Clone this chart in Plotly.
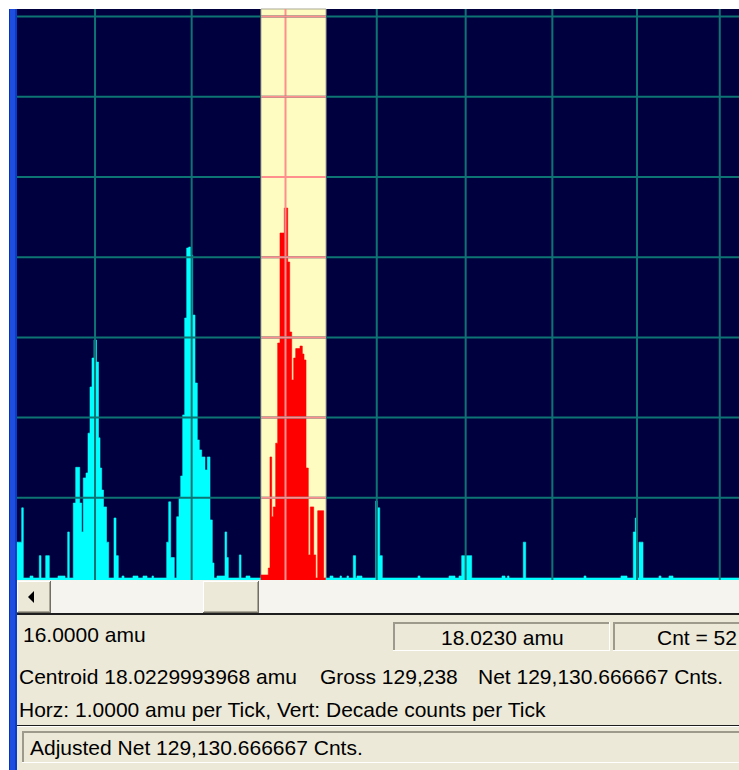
import math
import plotly.graph_objects as go

# ---- Time-of-flight calibration: sqrt(mass) = T0 + channel / K ----
T0 = 3.9006
K = 785.0
CH_MIN, CH_MAX = 0.0, 722.0

mass_ticks = [16, 17, 18, 19, 20, 21, 22, 23]   # 1 amu per tick
decade_ticks = [1, 2, 3, 4, 5, 6, 7]            # log10(counts), 1 decade per tick

# ---- Spectrum: non-background bins (channel edges, counts) ----
bin_lo = [0, 4.7, 13, 22.3, 28.7, 41, 50.7, 56.3, 58.7, 62.7, 64.7, 66.3, 69, 71, 73, 75, 77,
          79.5, 81.5, 83, 84.7, 86.5, 89.5, 97, 99, 105, 116, 126, 135,
          149.7, 151.7, 153.7, 159.7, 162, 163.7, 165.7, 167.7, 169.7, 171.7, 173.7, 175.7,
          178, 180.3, 182.3, 184.7, 188, 190.3, 193, 195.3, 200, 208, 209.7, 222.3, 229,
          244, 251.3, 253, 254.7, 256.3, 258.7, 260.7, 263, 267.3, 270.7, 272.7, 274.7,
          276.7, 278.7, 283, 285.3, 287, 289, 291.3, 293.3, 296.7, 300.7,
          313, 323, 330, 336.3, 340, 358.7, 360.3, 362.7, 401, 432, 442, 444.7, 447.3,
          485, 490.5, 506.3, 567, 604, 616.3, 618.3, 622, 642, 652]
bin_hi = [4.7, 6.3, 16, 24, 32.3, 48, 52.3, 58.7, 62.7, 64.7, 66.3, 69, 71, 73, 75, 77, 79.5,
          81.5, 83, 84.7, 86.5, 89.5, 91.7, 99, 101.3, 107, 121, 130, 136.5,
          151.7, 153.7, 157.3, 162, 163.7, 165.7, 167.7, 169.7, 171.7, 173.7, 175.7, 178,
          180.3, 182.3, 184.7, 188, 190.3, 193, 195.3, 197, 208, 209.7, 211.3, 224, 233,
          251.3, 253, 254.7, 256.3, 258.7, 260.7, 263, 267.3, 270.7, 272.7, 274.7, 276.7,
          278.7, 283, 285.3, 287, 289, 291.3, 293.3, 296.7, 298.7, 306.7,
          316, 324.5, 331.5, 338.6, 345, 360.3, 362.7, 365.3, 403, 438, 444.7, 447.3, 454.7,
          488, 492, 508.7, 569, 610, 618.3, 620.3, 626, 644, 656]
bin_counts = [2.8, 7.5, 1.06, 1.9, 1.9, 1.06, 3.75, 8.6, 24, 8.6, 3.75, 17.7, 20.4, 64, 241, 553, 929,
              493, 56, 23.5, 12.5, 7.7, 2.8, 5.6, 1.9, 1.06, 1.06, 1.06, 1.06,
              2.8, 8.9, 1.8, 5.8, 10.2, 18.7, 108, 1746, 13030, 13400, 10650, 1900,
              270, 52.6, 39.5, 32.3, 22.2, 32.3, 5.3, 1.54, 1.06, 3.75, 1.8, 1.94, 1.06,
              1.09, 1.33, 32.3, 5.8, 7.7, 48, 851, 20040, 41050, 8710, 1168, 294,
              553, 725, 780, 621, 523, 23.5, 1.94, 7.7, 1.94, 6.9,
              1.06, 1.06, 1.06, 1.9, 1.06, 9.1, 7.5, 1.9, 1.06, 1.06, 1.06, 1.9, 1.9,
              1.06, 1.06, 2.8, 1.06, 1.06, 3.75, 5.6, 2.8, 1.06, 1.06]
BACKGROUND = 1.0

# Region of interest (channels) around the 18 amu peak
roi_lo, roi_hi = 244, 309

# ---- Status bar texts ----
cursor_text = "16.0000 amu"
marker_text = "18.0230 amu"
count_text = "Cnt = 52"
centroid_text = "Centroid 18.0229993968 amu"
gross_text = "Gross 129,238"
net_text = "Net 129,130.666667 Cnts."
scale_text = "Horz: 1.0000 amu per Tick, Vert: Decade counts per Tick"
adjusted_text = "Adjusted Net 129,130.666667 Cnts."

NAVY = "#00003E"
TEAL = "#0E7373"
PINK = "#FF8E8E"
ROI_FILL = "#FFFCC2"
CYAN = "#00FFFF"
RED = "#FF0000"
FACE = "#ECE9D8"

W, H = 739, 770
Y_LOG_MIN, Y_LOG_MAX = -0.025, 7.095
Y_FLOOR = 10 ** Y_LOG_MIN


def mass_to_channel(m):
    return (math.sqrt(m) - T0) * K


# fill the gaps between listed bins with background counts
segs = sorted(zip(bin_lo, bin_hi, bin_counts))
full = []
pos = CH_MIN
for lo, hi, c in segs:
    if lo > pos:
        full.append((pos, lo, BACKGROUND))
    full.append((lo, hi, c))
    pos = hi
if pos < CH_MAX:
    full.append((pos, CH_MAX, BACKGROUND))


def step_polygon(a, b):
    """Closed histogram outline of the spectrum between channels a and b."""
    xs, ys = [a], [Y_FLOOR]
    for lo, hi, c in full:
        lo2, hi2 = max(lo, a), min(hi, b)
        if hi2 <= lo2:
            continue
        xs += [lo2, hi2]
        ys += [c, c]
    xs += [b, a]
    ys += [Y_FLOOR, Y_FLOOR]
    return xs, ys


fig = go.Figure()
for a, b, col in [(CH_MIN, roi_lo, CYAN), (roi_lo, roi_hi, RED), (roi_hi, CH_MAX, CYAN)]:
    xs, ys = step_polygon(a, b)
    fig.add_trace(go.Scatter(x=xs, y=ys, mode="lines", fill="toself", fillcolor=col,
                             line=dict(color=col, width=0.6), hoverinfo="skip",
                             showlegend=False))


def px(x):
    return x / W


def py(y):
    return 1 - y / H


shapes = []


def prect(x0, y0, x1, y1, fill, layer="above"):
    shapes.append(dict(type="rect", xref="paper", yref="paper",
                       x0=px(x0), x1=px(x1), y0=py(y1), y1=py(y0),
                       fillcolor=fill, line=dict(width=0), layer=layer))


# ROI highlight behind the spectrum
shapes.append(dict(type="rect", xref="x", yref="y domain", x0=roi_lo, x1=roi_hi, y0=0, y1=1,
                   fillcolor=ROI_FILL, line=dict(color="#A8A894", width=1), layer="below"))

# grid: one line per amu and per decade, drawn over the spectrum
for m in mass_ticks:
    c = mass_to_channel(m)
    col = PINK if roi_lo <= c <= roi_hi else TEAL
    shapes.append(dict(type="line", xref="x", yref="y domain", x0=c, x1=c, y0=0, y1=1,
                       line=dict(color=col, width=2), layer="above"))
for d in decade_ticks:
    shapes.append(dict(type="line", xref="x", yref="y", x0=CH_MIN, x1=CH_MAX,
                       y0=10 ** d, y1=10 ** d, line=dict(color=TEAL, width=2), layer="above"))
    shapes.append(dict(type="line", xref="x", yref="y", x0=roi_lo, x1=roi_hi,
                       y0=10 ** d, y1=10 ** d, line=dict(color=PINK, width=2), layer="above"))

# window frame on the left
prect(9, 9, 17, H, "#1D4EE0")
prect(9, 9, 10, H, "#0A34B8")
prect(15, 9, 17, H, "#0B3CC8")

# horizontal scrollbar
prect(17, 580, W, 614, "#F5F4EE")


def raised(x0, y0, x1, y1):
    prect(x0, y0, x1, y1, "#716F64")
    prect(x0, y0, x1 - 1, y1 - 1, "#FFFFFF")
    prect(x0 + 1, y0 + 1, x1 - 1, y1 - 1, "#ACA899")
    prect(x0 + 1, y0 + 1, x1 - 2, y1 - 2, FACE)


raised(17, 581, 51, 613)
raised(203, 581, 259, 613)
shapes.append(dict(type="path", xref="paper", yref="paper",
                   path="M {} {} L {} {} L {} {} Z".format(px(28), py(597), px(34), py(591),
                                                            px(34), py(603)),
                   fillcolor="#000000", line=dict(width=0), layer="above"))

# status panel
prect(17, 614, W, H, FACE)
prect(17, 613, W, 615, "#1E1E1E")


def sunken(x0, y0, x1, y1):
    prect(x0, y0, x1, y1, "#FFFFFF")
    prect(x0, y0, x1 - 1, y1 - 1, "#9D9A8B")
    prect(x0 + 2, y0 + 2, x1 - 1, y1 - 1, FACE)


sunken(393, 622, 610, 651)
sunken(613, 622, W + 2, 651)
prect(17, 725, W, 726, "#1E1E1E")
prect(17, 726, W, 727, "#FFFFFF")
sunken(22, 731, W + 2, 763)

FONT = dict(family="Liberation Sans, Arial, sans-serif", size=21, color="#000000")
annotations = []


def label(text, x, y, anchor="left"):
    annotations.append(dict(text=text, xref="paper", yref="paper", x=px(x), y=py(y),
                            xanchor=anchor, yanchor="middle", showarrow=False, font=FONT))


label(cursor_text, 21, 634)
label(marker_text, 502, 637, "center")
label(count_text, 655, 637)
label(centroid_text, 17, 676)
label(gross_text, 318, 676)
label(net_text, 476, 676)
label(scale_text, 17, 709)
label(adjusted_text, 28, 747)

fig.update_layout(
    width=W, height=H,
    margin=dict(l=0, r=0, t=0, b=0),
    paper_bgcolor="#FFFFFF",
    plot_bgcolor=NAVY,
    shapes=shapes,
    annotations=annotations,
    xaxis=dict(domain=[px(17), 1], range=[CH_MIN, CH_MAX], showgrid=False, zeroline=False,
               showticklabels=False, ticks="", showline=False, fixedrange=True),
    yaxis=dict(domain=[py(580), py(9)], type="log", range=[Y_LOG_MIN, Y_LOG_MAX],
               showgrid=False, zeroline=False, showticklabels=False, ticks="",
               showline=False, fixedrange=True),
)

fig.write_html("out.html", config=dict(displayModeBar=False))
